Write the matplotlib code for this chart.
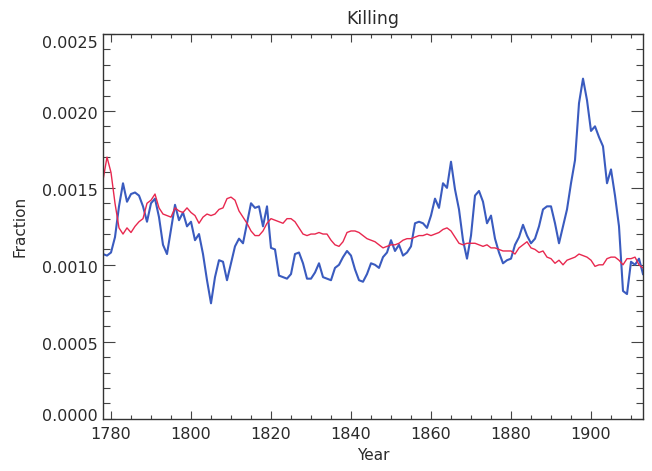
import numpy as np
import matplotlib
matplotlib.use("Agg")
import matplotlib.pyplot as plt
import matplotlib.transforms as mtransforms
from matplotlib.ticker import MultipleLocator, FormatStrFormatter

start_year = 1778
blue_vals = [
    0.00107, 0.00106,
    0.00108, 0.00118, 0.00138, 0.00153, 0.00141, 0.00146, 0.00147, 0.00145, 0.00138, 0.00128,
    0.00140, 0.00143, 0.00131, 0.00113, 0.00107, 0.00123, 0.00139, 0.00129, 0.00134, 0.00125,
    0.00128, 0.00116, 0.00120, 0.00107, 0.00090, 0.00075, 0.00092, 0.00103, 0.00102, 0.00090,
    0.00101, 0.00112, 0.00117, 0.00114, 0.00127, 0.00140, 0.00137, 0.00138, 0.00125, 0.00138,
    0.00111, 0.00110, 0.00093, 0.00092, 0.00091, 0.00094, 0.00107, 0.00108, 0.00101, 0.00091,
    0.00091, 0.00095, 0.00101, 0.00092, 0.00091, 0.00090, 0.00098, 0.00100, 0.00105, 0.00109,
    0.00106, 0.00097, 0.00090, 0.00089, 0.00094, 0.00101, 0.00100, 0.00098, 0.00105, 0.00108,
    0.00116, 0.00109, 0.00113, 0.00106, 0.00108, 0.00112, 0.00127, 0.00128, 0.00127, 0.00124,
    0.00132, 0.00143, 0.00137, 0.00153, 0.00150, 0.00167, 0.00149, 0.00136, 0.00116, 0.00104,
    0.00119, 0.00145, 0.00148, 0.00141, 0.00127, 0.00132, 0.00117, 0.00108, 0.00101, 0.00103,
    0.00104, 0.00113, 0.00118, 0.00126, 0.00119, 0.00114, 0.00117, 0.00125, 0.00136, 0.00138,
    0.00138, 0.00127, 0.00114, 0.00125, 0.00136, 0.00153, 0.00168, 0.00205, 0.00221, 0.00207,
    0.00187, 0.00190, 0.00183, 0.00177, 0.00153, 0.00162, 0.00145, 0.00125, 0.00083, 0.00081,
    0.00102, 0.00100, 0.00104, 0.00094,
]
red_vals = [
    0.00155, 0.00170,
    0.00160, 0.00140, 0.00124, 0.00120, 0.00124, 0.00121, 0.00125, 0.00128, 0.00130, 0.00140,
    0.00142, 0.00146, 0.00137, 0.00133, 0.00132, 0.00131, 0.00137, 0.00135, 0.00134, 0.00137,
    0.00134, 0.00132, 0.00127, 0.00131, 0.00133, 0.00132, 0.00133, 0.00136, 0.00137, 0.00143,
    0.00144, 0.00142, 0.00135, 0.00131, 0.00127, 0.00122, 0.00119, 0.00119, 0.00122, 0.00127,
    0.00130, 0.00129, 0.00128, 0.00127, 0.00130, 0.00130, 0.00128, 0.00124, 0.00120, 0.00119,
    0.00120, 0.00120, 0.00121, 0.00120, 0.00120, 0.00116, 0.00113, 0.00112, 0.00115, 0.00121,
    0.00122, 0.00122, 0.00121, 0.00119, 0.00117, 0.00116, 0.00115, 0.00113, 0.00111, 0.00112,
    0.00113, 0.00113, 0.00114, 0.00116, 0.00117, 0.00117, 0.00118, 0.00119, 0.00119, 0.00120,
    0.00119, 0.00120, 0.00121, 0.00123, 0.00124, 0.00122, 0.00118, 0.00114, 0.00113, 0.00114,
    0.00114, 0.00114, 0.00113, 0.00112, 0.00113, 0.00111, 0.00111, 0.00110, 0.00109, 0.00109,
    0.00109, 0.00107, 0.00111, 0.00113, 0.00115, 0.00111, 0.00110, 0.00108, 0.00109, 0.00105,
    0.00104, 0.00101, 0.00103, 0.00100, 0.00103, 0.00104, 0.00105, 0.00107, 0.00106, 0.00105,
    0.00103, 0.00099, 0.00100, 0.00100, 0.00104, 0.00105, 0.00105, 0.00103, 0.00100, 0.00104,
    0.00104, 0.00105, 0.00100, 0.00098,
]
years = np.arange(start_year, start_year + len(blue_vals))

title = "Killing"
xlabel = "Year"
ylabel = "Fraction"

plt.rcParams['font.family'] = ['DejaVu Sans']
txt = '#2a2a2a'

fig = plt.figure(figsize=(6.52, 4.71), dpi=100)
ax = fig.add_axes([103/652, 1 - 418.7/471, (643-103)/652, (418.7-34)/471])

ax.plot(years, blue_vals, color='#3a5bbf', lw=1.5)
ax.plot(years, red_vals, color='#e8284f', lw=1.0)

ax.set_xlim(1778, 1913)
ax.set_ylim(0, 0.0025)
ax.xaxis.set_major_locator(MultipleLocator(20))
ax.xaxis.set_minor_locator(MultipleLocator(5))
ax.yaxis.set_major_locator(MultipleLocator(0.0005))
ax.yaxis.set_minor_locator(MultipleLocator(0.0001))
ax.yaxis.set_major_formatter(FormatStrFormatter('%.4f'))

ax.tick_params(axis='both', which='both', direction='in', top=True, right=True,
               colors='#444444', labelcolor=txt, labelsize=11.5, width=0.8)
ax.tick_params(axis='x', which='major', length=5.5, pad=6)
ax.tick_params(axis='x', which='minor', length=3)
ax.tick_params(axis='y', which='major', length=8.5, pad=4)
ax.tick_params(axis='y', which='minor', length=5)
for s in ax.spines.values():
    s.set_color('#333333')
    s.set_linewidth(1.0)

ax.set_title(title, fontsize=12.5, color=txt, pad=7)
ax.set_xlabel(xlabel, fontsize=11, color=txt, labelpad=4)
ax.set_ylabel(ylabel, fontsize=11, color=txt, labelpad=10)

# IDL-style label placement: slightly below the tick, top label pushed inside
fig.canvas.draw()
ylabels = ax.get_yticklabels()
n = len(ylabels)
for i, lab in enumerate(ylabels):
    val = lab.get_position()[1]
    if abs(val - 0.0025) < 1e-9:
        dy = -8
    elif abs(val) < 1e-9:
        dy = 4
    else:
        dy = -2.5
    lab.set_transform(lab.get_transform() + mtransforms.ScaledTranslation(0, dy / 100, fig.dpi_scale_trans))

fig.savefig('out.png', dpi=100)
